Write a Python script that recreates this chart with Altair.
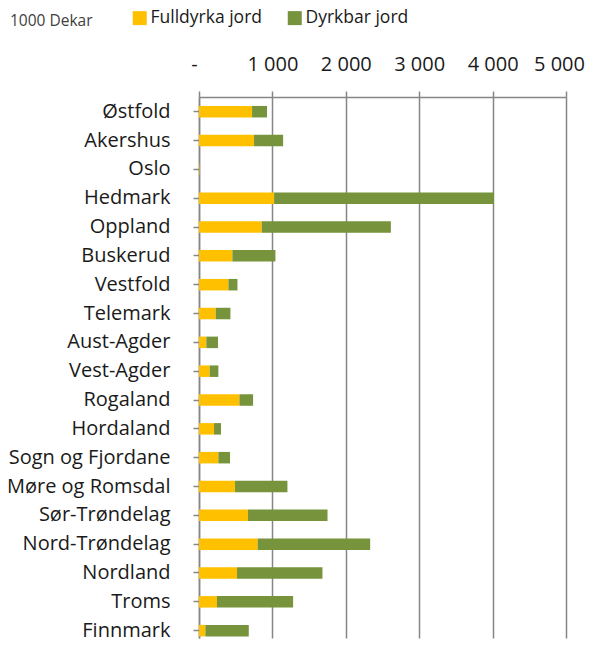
import altair as alt
import pandas as pd

fylker = ["Østfold", "Akershus", "Oslo", "Hedmark", "Oppland", "Buskerud", "Vestfold",
          "Telemark", "Aust-Agder", "Vest-Agder", "Rogaland", "Hordaland",
          "Sogn og Fjordane", "Møre og Romsdal", "Sør-Trøndelag", "Nord-Trøndelag",
          "Nordland", "Troms", "Finnmark"]
fulldyrka = [723, 750, 7, 1023, 855, 455, 401, 228, 100, 146, 551, 205, 264, 491, 668, 800, 518, 245, 87]
dyrkbar = [204, 396, 2, 2996, 1759, 586, 123, 200, 159, 118, 186, 95, 159, 714, 1083, 1532, 1164, 1037, 591]
series = ["Fulldyrka jord", "Dyrkbar jord"]
colors = ["#FFC000", "#77933C"]
x_ticks = [0, 1000, 2000, 3000, 4000, 5000]

rows = []
for i, f in enumerate(fylker):
    rows.append({"fylke": f, "serie": series[0], "verdi": fulldyrka[i], "ord": 0})
    rows.append({"fylke": f, "serie": series[1], "verdi": dyrkbar[i], "ord": 1})
df = pd.DataFrame(rows)

FONT = "Open Sans"
GRAY = "#868686"
TXT = "#1a1a1a"

chart = alt.Chart(df).mark_bar(size=11.5).encode(
    y=alt.Y("fylke:N", sort=fylker,
            scale=alt.Scale(paddingInner=0.6, paddingOuter=0.1825, align=0.85),
            axis=alt.Axis(title=None, labelFontSize=20, labelFont=FONT, labelColor=TXT,
                          labelPadding=23, tickSize=6, tickColor=GRAY, tickWidth=1.5,
                          domainColor=GRAY, domainWidth=1.5, grid=False, labelLimit=300)),
    x=alt.X("verdi:Q", stack="zero",
            scale=alt.Scale(domain=[0, 5000], nice=False),
            axis=alt.Axis(orient="top", title=None, values=x_ticks,
                          labelExpr="datum.value == 0 ? '-' : replace(format(datum.value, ','), ',', ' ')",
                          labelFontSize=20, labelFont=FONT, labelColor=TXT, labelFlush=False,
                          labelOffset={"expr": "datum.value == 0 ? -5 : (datum.value == 5000 ? -7 : 0)"},
                          labelPadding=17, tickSize=6, tickColor=GRAY, tickWidth=1.5,
                          domainColor=GRAY, domainWidth=1.5,
                          grid=True, gridColor=GRAY, gridWidth=1.5)),
    color=alt.Color("serie:N", sort=series,
                    scale=alt.Scale(domain=series, range=colors),
                    legend=alt.Legend(title=None, orient="none", legendX=-68, legendY=-88,
                                      direction="horizontal", symbolType="square",
                                      symbolSize=196, symbolStrokeWidth=0, symbolOpacity=1,
                                      labelFontSize=17.5, labelFont=FONT, labelColor=TXT,
                                      labelOffset=2, columnPadding=24, labelLimit=300)),
    order=alt.Order("ord:Q"),
).properties(
    width=367, height=541,
    title=alt.TitleParams("1000 Dekar", anchor="start", frame="group", fontSize=15.5, font=FONT,
                          fontWeight="normal", color="#404040", dx=-189, dy=24),
    autosize=alt.AutoSizeParams(type="none"),
    padding={"left": 191, "top": 89, "right": 21, "bottom": 7},
).configure_view(stroke=None)

chart.save("out.html", embed_options={"renderer": "svg", "actions": False})
